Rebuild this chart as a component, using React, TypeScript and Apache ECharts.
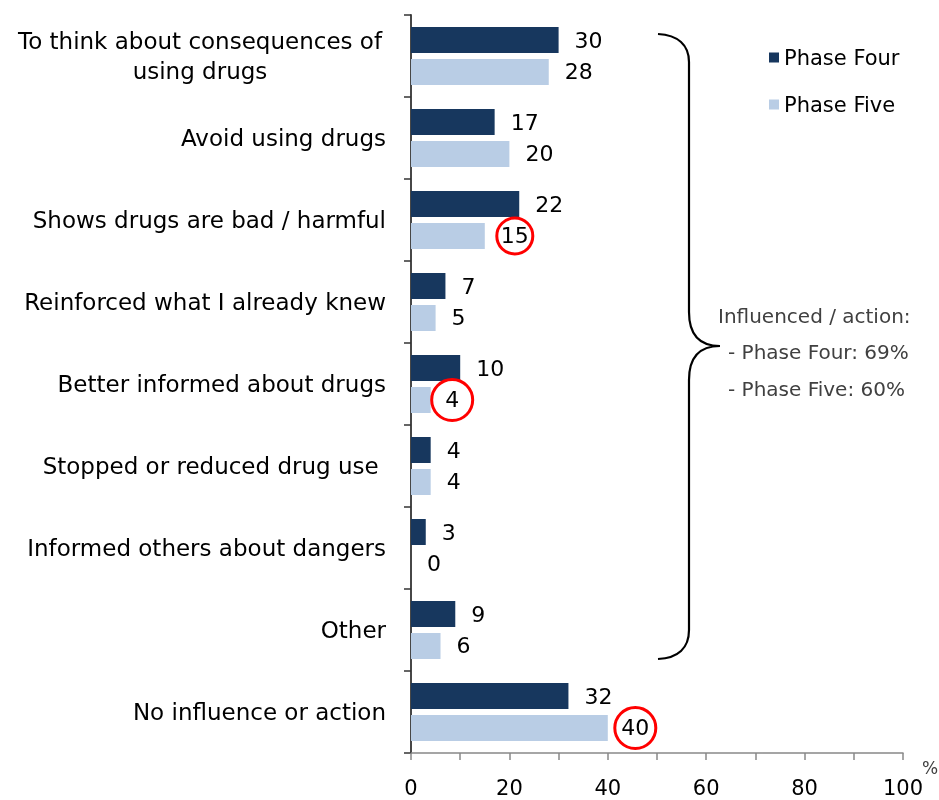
import React, { useEffect, useRef } from "react";
import * as echarts from "echarts";

const categories = [
  "To think about consequences of\nusing drugs",
  "Avoid using drugs",
  "Shows drugs are bad / harmful",
  "Reinforced what I already knew",
  "Better informed about drugs",
  "Stopped or reduced drug use ",
  "Informed others about dangers",
  "Other",
  "No influence or action",
];
const seriesNames = ["Phase Four", "Phase Five"];
const phaseFour = [30, 17, 22, 7, 10, 4, 3, 9, 32];
const phaseFive = [28, 20, 15, 5, 4, 4, 0, 6, 40];
const circledPhaseFive = [
  "Shows drugs are bad / harmful",
  "Better informed about drugs",
  "No influence or action",
];
const xMin = 0;
const xMax = 100;
const xTickStep = 10;
const xLabelStep = 20;
const xAxisUnit = "%";
const annotationLines = ["Influenced / action:", "- Phase Four: 69%", "- Phase Five: 60%"];

const FONT = "DejaVu Sans";

const circleLook: Record<number, { size: number; distance: number }> = {
  2: { size: 36, distance: 12 },
  4: { size: 41, distance: 1 },
  8: { size: 41, distance: 7 },
};

echarts.graphic.registerShape(
  "brace",
  echarts.graphic.extendPath(
    "M658,34 C678,35 689,45 689,62 L689,312 C689,336 700,346 720,346 C700,346 689,356 689,380 L689,630 C689,648 678,658 658,659",
    {}
  )
);

export default function App() {
  const ref = useRef<HTMLDivElement>(null);
  useEffect(() => {
    if (!ref.current) return;
    const chart = echarts.init(ref.current, null, { renderer: "svg" });

    const fiveData = phaseFive.map((v, i) => {
      if (!circledPhaseFive.includes(categories[i])) return v;
      const look = circleLook[i] || { size: 38, distance: 6 };
      return {
        value: v,
        label: {
          distance: look.distance,
          formatter: (p: any) => `{circ|${p.value}}`,
          rich: {
            circ: {
              width: look.size,
              height: look.size,
              lineHeight: look.size,
              align: "center",
              verticalAlign: "middle",
              borderColor: "#FF0000",
              borderWidth: 3,
              borderRadius: look.size / 2,
              fontSize: 22,
              fontFamily: FONT,
              color: "#000",
            },
          },
        },
      };
    });

    const baseLabel = {
      show: true,
      position: "right",
      distance: 16,
      fontSize: 22,
      fontFamily: FONT,
      color: "#000",
    };

    chart.setOption({
      animation: false,
      grid: {
        left: 411,
        right: 36,
        top: 15,
        bottom: 47,
        containLabel: false,
        outerBoundsMode: "none",
      },
      legend: {
        data: seriesNames,
        orient: "vertical",
        left: 769,
        top: 47,
        padding: 0,
        itemWidth: 10,
        itemHeight: 10,
        itemGap: 26,
        icon: "rect",
        selectedMode: false,
        textStyle: { fontSize: 21, fontFamily: FONT, color: "#000" },
      },
      xAxis: {
        type: "value",
        min: xMin,
        max: xMax,
        interval: xTickStep,
        name: xAxisUnit,
        nameLocation: "end",
        nameGap: 19,
        nameTextStyle: {
          fontSize: 17,
          fontFamily: FONT,
          color: "#404040",
          verticalAlign: "top",
          padding: [6, 0, 0, 0],
        },
        axisLine: { show: true, lineStyle: { color: "#888888", width: 1.5 } },
        axisTick: { show: true, length: 7, lineStyle: { color: "#888888", width: 1.5 } },
        splitLine: { show: false },
        axisLabel: {
          margin: 24,
          fontSize: 21,
          fontFamily: FONT,
          color: "#000",
          formatter: (v: number) => (v % xLabelStep === 0 ? String(v) : ""),
        },
      },
      yAxis: {
        type: "category",
        data: categories,
        inverse: true,
        axisLine: { show: true, lineStyle: { color: "#333333", width: 1.8 } },
        axisTick: { show: true, length: 7, lineStyle: { color: "#333333", width: 1.5 } },
        axisLabel: {
          margin: 25,
          fontSize: 23,
          fontFamily: FONT,
          color: "#000",
          lineHeight: 30,
          formatter: (v: string) =>
            v.includes("\n")
              ? v
                  .split("\n")
                  .map((s) => `{w|${s}}`)
                  .join("\n")
              : v,
          rich: {
            w: {
              width: 372,
              align: "center",
              fontSize: 23,
              fontFamily: FONT,
              color: "#000",
              lineHeight: 30,
            },
          },
        },
      },
      series: [
        {
          name: seriesNames[0],
          type: "bar",
          data: phaseFour,
          barWidth: 26,
          barGap: "23%",
          itemStyle: { color: "#17375E" },
          label: baseLabel,
        },
        {
          name: seriesNames[1],
          type: "bar",
          data: fiveData,
          barWidth: 26,
          barGap: "23%",
          itemStyle: { color: "#B9CDE5" },
          label: baseLabel,
        },
      ],
      graphic: [
        {
          type: "brace",
          x: 0,
          y: 0,
          style: { stroke: "#000", lineWidth: 2.2, fill: "none" },
          silent: true,
        },
        ...annotationLines.map((t, i) => ({
          type: "text",
          x: i === 0 ? 718 : 728,
          y: [316, 352, 389][i],
          style: {
            text: t,
            fontSize: 20,
            fontFamily: FONT,
            fill: "#404040",
            verticalAlign: "middle",
            align: "left",
          },
          silent: true,
        })),
      ],
    });
    return () => chart.dispose();
  }, []);
  return (
    <div
      ref={ref}
      style={{ position: "fixed", left: 0, top: 0, width: 939, height: 800 }}
    />
  );
}
